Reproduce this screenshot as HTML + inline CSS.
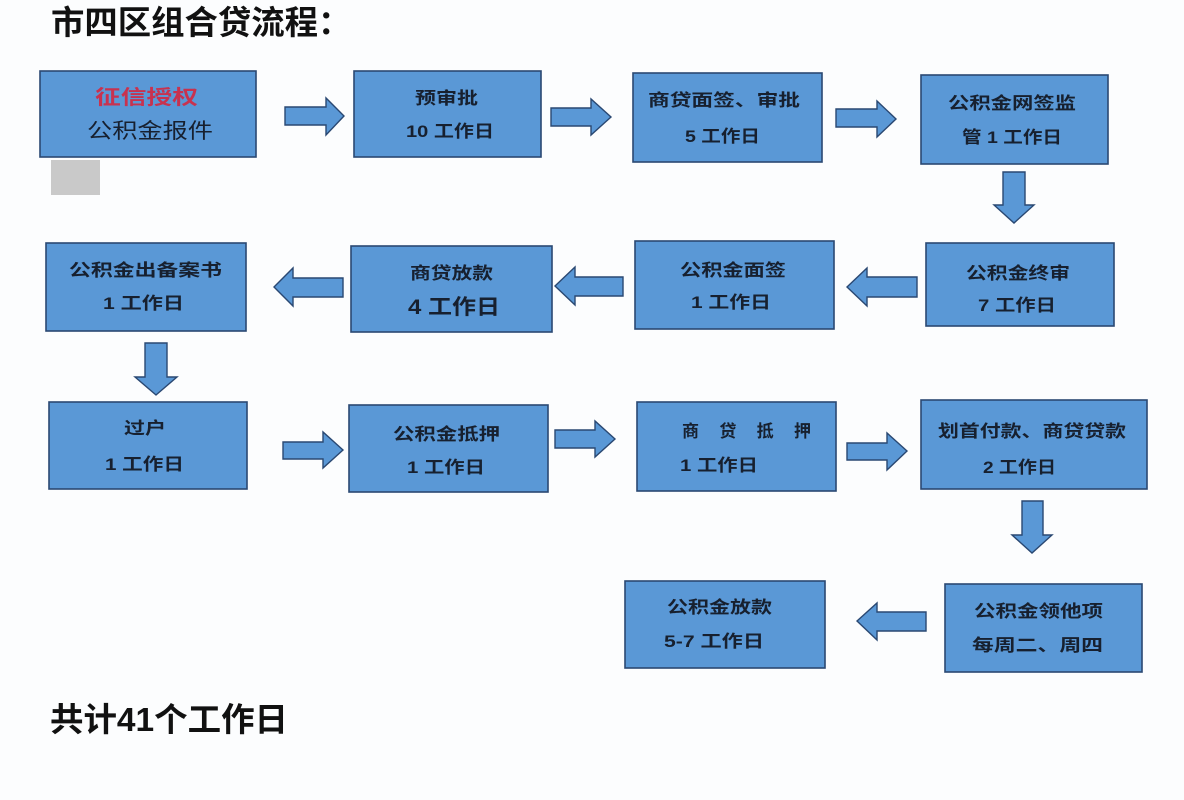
<!DOCTYPE html>
<html>
<head>
<meta charset="utf-8">
<style>
html,body{margin:0;padding:0;background:#fcfdfe;}
svg{display:block;}
.t{font-family:"Liberation Sans","Noto Sans CJK SC",sans-serif;font-weight:700;fill:#17202f;font-size:17px;}
.h{font-family:"Liberation Sans","Noto Sans CJK SC",sans-serif;font-weight:700;fill:#111;font-size:33px;}
.b{fill:#5a98d6;stroke:#2a4872;stroke-width:1.6;}
.a{fill:#5a98d6;stroke:#2a4872;stroke-width:1.4;stroke-linejoin:miter;}
</style>
</head>
<body>
<svg width="1184" height="800" viewBox="0 0 1184 800" xmlns="http://www.w3.org/2000/svg">
<rect x="0" y="0" width="1184" height="800" fill="#fcfdfe"/>

<!-- Title -->
<text class="h" x="51" y="34" textLength="267" lengthAdjust="spacingAndGlyphs">市四区组合贷流程</text>
<text class="h" x="318" y="34">：</text>

<!-- Row 1 boxes -->
<rect class="b" x="40" y="71" width="216" height="86"/>
<rect x="51" y="160" width="49" height="35" fill="#c9c9c9"/>
<rect class="b" x="354" y="71" width="187" height="86"/>
<rect class="b" x="633" y="73" width="189" height="89"/>
<rect class="b" x="921" y="75" width="187" height="89"/>

<!-- Row 2 boxes -->
<rect class="b" x="46" y="243" width="200" height="88"/>
<rect class="b" x="351" y="246" width="201" height="86"/>
<rect class="b" x="635" y="241" width="199" height="88"/>
<rect class="b" x="926" y="243" width="188" height="83"/>

<!-- Row 3 boxes -->
<rect class="b" x="49" y="402" width="198" height="87"/>
<rect class="b" x="349" y="405" width="199" height="87"/>
<rect class="b" x="637" y="402" width="199" height="89"/>
<rect class="b" x="921" y="400" width="226" height="89"/>

<!-- Row 4 boxes -->
<rect class="b" x="625" y="581" width="200" height="87"/>
<rect class="b" x="945" y="584" width="197" height="88"/>

<!-- Arrows row 1 (right) -->
<polygon class="a" points="285,107 326,107 326,98 344,116 326,135 326,125 285,125"/>
<polygon class="a" points="551,108 591,108 591,99 611,117 591,135 591,126 551,126"/>
<polygon class="a" points="836,109 877,109 877,101 896,119 877,137 877,127 836,127"/>
<!-- Down arrow 1 -->
<polygon class="a" points="1003,172 1025,172 1025,205 1034,205 1014,223 994,205 1003,205"/>

<!-- Arrows row 2 (left) -->
<polygon class="a" points="343,278 293,278 293,268 274,287 293,306 293,297 343,297"/>
<polygon class="a" points="623,277 575,277 575,267 555,286 575,305 575,296 623,296"/>
<polygon class="a" points="917,277 867,277 867,268 847,287 867,306 867,297 917,297"/>
<!-- Down arrow 2 -->
<polygon class="a" points="145,343 167,343 167,377 177,377 156,395 135,377 145,377"/>

<!-- Arrows row 3 (right) -->
<polygon class="a" points="283,442 323,442 323,432 343,450 323,468 323,459 283,459"/>
<polygon class="a" points="555,430 595,430 595,421 615,439 595,457 595,448 555,448"/>
<polygon class="a" points="847,443 887,443 887,433 907,451 887,470 887,460 847,460"/>
<!-- Down arrow 3 -->
<polygon class="a" points="1022,501 1043,501 1043,535 1052,535 1032,553 1012,535 1022,535"/>

<!-- Arrow row 4 (left) -->
<polygon class="a" points="926,612 877,612 877,603 857,621 877,640 877,631 926,631"/>

<!-- Box texts row 1 -->
<text class="t" x="95" y="104" style="fill:#c8324f;font-size:20px" textLength="103" lengthAdjust="spacingAndGlyphs">征信授权</text>
<text class="t" x="87" y="138" style="font-size:21px;font-weight:400" textLength="126" lengthAdjust="spacingAndGlyphs">公积金报件</text>
<text class="t" x="415" y="104" textLength="63" lengthAdjust="spacingAndGlyphs">预审批</text>
<text class="t" x="406" y="137" textLength="88" lengthAdjust="spacingAndGlyphs">10 工作日</text>
<text class="t" x="648" y="106" textLength="152" lengthAdjust="spacingAndGlyphs">商贷面签、审批</text>
<text class="t" x="685" y="142" textLength="75" lengthAdjust="spacingAndGlyphs">5 工作日</text>
<text class="t" x="948" y="109" textLength="128" lengthAdjust="spacingAndGlyphs">公积金网签监</text>
<text class="t" x="962" y="143" textLength="100" lengthAdjust="spacingAndGlyphs">管 1 工作日</text>

<!-- Row 2 texts -->
<text class="t" x="69" y="276" textLength="153" lengthAdjust="spacingAndGlyphs">公积金出备案书</text>
<text class="t" x="103" y="309" textLength="81" lengthAdjust="spacingAndGlyphs">1 工作日</text>
<text class="t" x="410" y="279" textLength="83" lengthAdjust="spacingAndGlyphs">商贷放款</text>
<text class="t" x="408" y="314" style="font-size:21px" textLength="92" lengthAdjust="spacingAndGlyphs">4 工作日</text>
<text class="t" x="680" y="276" textLength="106" lengthAdjust="spacingAndGlyphs">公积金面签</text>
<text class="t" x="691" y="308" textLength="80" lengthAdjust="spacingAndGlyphs">1 工作日</text>
<text class="t" x="966" y="279" textLength="104" lengthAdjust="spacingAndGlyphs">公积金终审</text>
<text class="t" x="978" y="311" textLength="78" lengthAdjust="spacingAndGlyphs">7 工作日</text>

<!-- Row 3 texts -->
<text class="t" x="124" y="434" textLength="42" lengthAdjust="spacingAndGlyphs">过户</text>
<text class="t" x="105" y="470" textLength="79" lengthAdjust="spacingAndGlyphs">1 工作日</text>
<text class="t" x="393" y="440" textLength="107" lengthAdjust="spacingAndGlyphs">公积金抵押</text>
<text class="t" x="407" y="473" textLength="78" lengthAdjust="spacingAndGlyphs">1 工作日</text>
<text class="t" x="682" y="437" textLength="129" lengthAdjust="spacing">商 贷 抵 押</text>
<text class="t" x="680" y="471" textLength="78" lengthAdjust="spacingAndGlyphs">1 工作日</text>
<text class="t" x="938" y="437" textLength="188" lengthAdjust="spacingAndGlyphs">划首付款、商贷贷款</text>
<text class="t" x="983" y="473" textLength="73" lengthAdjust="spacingAndGlyphs">2 工作日</text>

<!-- Row 4 texts -->
<text class="t" x="667" y="613" textLength="105" lengthAdjust="spacingAndGlyphs">公积金放款</text>
<text class="t" x="664" y="647" textLength="100" lengthAdjust="spacingAndGlyphs">5-7 工作日</text>
<text class="t" x="974" y="617" textLength="129" lengthAdjust="spacingAndGlyphs">公积金领他项</text>
<text class="t" x="972" y="651" textLength="131" lengthAdjust="spacingAndGlyphs">每周二、周四</text>

<!-- Total -->
<text class="h" x="50" y="731" textLength="238" lengthAdjust="spacingAndGlyphs">共计41个工作日</text>
</svg>
</body>
</html>
